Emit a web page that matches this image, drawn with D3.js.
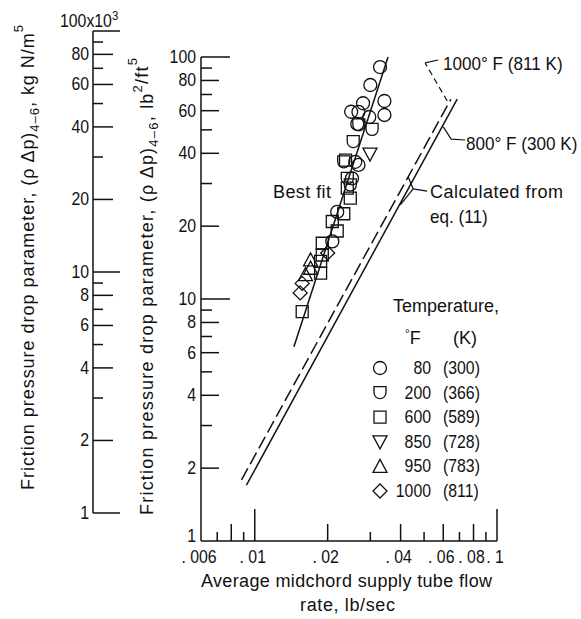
<!DOCTYPE html>
<html>
<head>
<meta charset="utf-8">
<script src="https://cdn.jsdelivr.net/npm/d3@7"></script>
<style>
  body { margin: 0; background: #fff; }
  svg text { font-family: "Liberation Sans", Arial, sans-serif; font-size: 18px; fill: #111; }
</style>
</head>
<body>
<script>
// data (x lb/sec, y lb^2/ft^5)
var circlesX = [0.0329, 0.0300, 0.0280, 0.0343, 0.0343, 0.0250, 0.0297, 0.0265, 0.0268, 0.0260, 0.0268, 0.0252, 0.0219, 0.0209];
var circlesY = [90.9, 76.6, 64.4, 65.8, 57.6, 59.4, 56.5, 52.9, 59.3, 36.9, 35.8, 31.5, 22.9, 17.3];
var cupsX = [0.0305, 0.0269, 0.0255, 0.0241, 0.0233, 0.0248];
var cupsY = [50.2, 52.4, 44.7, 31.5, 36.9, 29.6];
var squaresX = [0.0157, 0.0187, 0.0187, 0.0190, 0.0190, 0.0209, 0.0233, 0.0219, 0.0248, 0.0241, 0.0237];
var squaresY = [8.86, 12.8, 14.3, 15.2, 17.0, 20.9, 22.5, 19.1, 26.1, 28.7, 37.5];
var trisDownX = [0.0299];
var trisDownY = [39.7];
var trisUpX = [0.0170, 0.0162, 0.0170];
var trisUpY = [13.4, 12.6, 14.5];
var diamondsX = [0.0157, 0.0154, 0.0200];
var diamondsY = [11.6, 10.6, 15.5];

// lines
var bestFitX = [0.01451, 0.0355];
var bestFitY = [6.35, 100];
var calc800X = [0.00924, 0.0685];
var calc800Y = [1.70, 67.0];
var calc1000X = [0.00882, 0.0645];
var calc1000Y = [1.79, 66.9];

// legend
var legendF = ["80", "200", "600", "850", "950", "1000"];
var legendK = ["(300)", "(366)", "(589)", "(728)", "(783)", "(811)"];

// tick labels
var xTicks = [0.006, 0.01, 0.02, 0.04, 0.06, 0.08, 0.1];
var xTickLabels = [". 006", ". 01", ". 02", ". 04", ". 06", ". 08", ". 1"];
var yTicks = [1, 2, 4, 6, 8, 10, 20, 40, 60, 80, 100];

var width = 581, height = 619;
var NARROW = 0.88;

var svg = d3.select("body").append("svg")
    .attr("width", width)
    .attr("height", height);

// scales
var x = d3.scaleLog().domain([0.006, 0.1]).range([201, 497]);
var y = d3.scaleLog().domain([1, 100]).range([541, 57]);
var y2 = d3.scaleLog().domain([1, 100]).range([513, 31]);

// all 1..9 tick values per decade
function tickValues(lo, hi) {
  var out = [];
  for (var e = Math.floor(Math.log10(lo)); e <= Math.ceil(Math.log10(hi)); e++) {
    for (var m = 1; m < 10; m++) {
      var v = +(m * Math.pow(10, e)).toPrecision(6);
      if (v >= lo - 1e-9 && v <= hi + 1e-9) out.push(v);
    }
  }
  return out;
}
function mantissa(v) {
  return Math.round(v / Math.pow(10, Math.floor(Math.log10(v) + 1e-9)));
}
function tickLen(v, long, mid, short) {
  var m = mantissa(v);
  if (m === 1) return long;
  return m % 2 === 0 ? mid : short;
}
function squeeze(px, py, sx) {
  return "translate(" + px + "," + py + ") scale(" + (sx || NARROW) + ",1)";
}

var axes = svg.append("g").attr("stroke", "#111").attr("stroke-width", 1.5).attr("fill", "none");

// main x axis
axes.append("line").attr("x1", x(0.006)).attr("x2", x(0.1)).attr("y1", y(1)).attr("y2", y(1));
axes.selectAll(".xt").data(tickValues(0.007, 0.1)).enter().append("line")
    .attr("x1", function(d) { return x(d); }).attr("x2", function(d) { return x(d); })
    .attr("y1", y(1)).attr("y2", function(d) { return y(1) - tickLen(d, 32, 17, 9); });

// main y axis
axes.append("line").attr("x1", x(0.006)).attr("x2", x(0.006)).attr("y1", y(1)).attr("y2", y(100));
axes.selectAll(".yt").data(tickValues(1.5, 100)).enter().append("line")
    .attr("x1", x(0.006)).attr("x2", function(d) { return x(0.006) + tickLen(d, 29, 18, 11); })
    .attr("y1", function(d) { return y(d); }).attr("y2", function(d) { return y(d); });

// secondary (SI) y axis
var ax2 = 93;
axes.append("line").attr("x1", ax2).attr("x2", ax2).attr("y1", y2(1)).attr("y2", y2(100));
axes.selectAll(".y2t").data(tickValues(1, 100)).enter().append("line")
    .attr("x1", ax2).attr("x2", function(d) { return ax2 + tickLen(d, 27, 20, 10); })
    .attr("y1", function(d) { return y2(d); }).attr("y2", function(d) { return y2(d); });

// tick labels
svg.selectAll(".xl").data(xTicks).enter().append("text")
    .attr("transform", function(d) { return squeeze(x(d) - 2, 563); })
    .attr("text-anchor", "middle")
    .text(function(d, i) { return xTickLabels[i]; });

svg.selectAll(".yl").data(yTicks).enter().append("text")
    .attr("transform", function(d) { return squeeze(196, d === 1 ? y(d) + 1 : y(d) + 6); })
    .attr("text-anchor", "end")
    .text(function(d) { return d; });

svg.selectAll(".y2l").data(yTicks.slice(0, -1)).enter().append("text")
    .attr("transform", function(d) { return squeeze(89, y2(d) + 6); })
    .attr("text-anchor", "end")
    .text(function(d) { return d; });

var top2 = svg.append("text").attr("transform", squeeze(60, 27));
top2.append("tspan").text("100x10");
top2.append("tspan").attr("dy", -7).attr("font-size", 13).text("3");

// axis titles
function yTitle(tx, ty, len, tail) {
  var t = svg.append("text")
      .attr("transform", "translate(" + tx + "," + ty + ") rotate(-90)")
      .attr("textLength", len)
      .attr("lengthAdjust", "spacing");
  t.append("tspan").text("Friction pressure drop parameter,  (\u03C1 \u0394p)");
  t.append("tspan").attr("dy", 5).attr("font-size", 13).text("4\u20136");
  tail.forEach(function(p) {
    if (p[1] === "sup") t.append("tspan").attr("dy", -11).attr("font-size", 13).text(p[0]);
    else if (p[1] === "back") t.append("tspan").attr("dy", 6).text(p[0]);
    else t.append("tspan").attr("dy", -5).text(p[0]);
  });
}
yTitle(34, 490, 465, [[",  kg N/m", "norm"], ["5", "sup"]]);
yTitle(153, 515, 457, [[",  lb", "norm"], ["2", "sup"], ["/ft", "back"], ["5", "sup"]]);

svg.append("text").attr("x", 201).attr("y", 587)
    .attr("textLength", 291).attr("lengthAdjust", "spacing")
    .text("Average midchord supply tube flow");
svg.append("text").attr("x", 300).attr("y", 611)
    .attr("textLength", 95).attr("lengthAdjust", "spacing")
    .text("rate,  lb/sec");

// lines
var line = d3.line()
    .x(function(d) { return x(d[0]); })
    .y(function(d) { return y(d[1]); });

var lines = svg.append("g").attr("fill", "none").attr("stroke", "#111").attr("stroke-width", 1.5);
lines.append("path").attr("d", line(d3.zip(bestFitX, bestFitY)));
lines.append("path").attr("d", line(d3.zip(calc800X, calc800Y)));
lines.append("path").attr("d", line(d3.zip(calc1000X, calc1000Y))).attr("stroke-dasharray", "13,5");

// leaders (data space)
lines.append("path").attr("stroke-dasharray", "6,4").attr("stroke-width", 1.2)
    .attr("d", line([[0.0623, 65.8], [0.0505, 94.5]]));
lines.append("path").attr("stroke-width", 1.2)
    .attr("d", line([[0.0505, 94.5], [0.0572, 97.2]]));
lines.append("path").attr("stroke-width", 1.2)
    .attr("d", line([[0.0600, 51.4], [0.0647, 45.8], [0.0739, 45.4]]));
lines.append("path").attr("stroke-width", 1.2)
    .attr("d", line([[0.0430, 31.9], [0.0451, 28.5], [0.0515, 27.9]]));
lines.append("path").attr("stroke-width", 1.2)
    .attr("d", line([[0.0451, 28.5], [0.0399, 24.5]]));

// annotations
svg.append("text").attr("transform", squeeze(443, 70, 0.95)).text("1000\u00B0 F (811 K)");
svg.append("text").attr("transform", squeeze(466, 150, 0.95)).text("800\u00B0 F (300 K)");
svg.append("text").attr("x", 430).attr("y", 198).attr("textLength", 133).attr("lengthAdjust", "spacing").text("Calculated from");
svg.append("text").attr("transform", squeeze(430, 223, 0.95)).text("eq.  (11)");
svg.append("text").attr("x", 273).attr("y", 198).attr("textLength", 58).attr("lengthAdjust", "spacing").text("Best fit");

// marker shapes
var shapes = {
  circle: "M6.5,0A6.5,6.5 0 1 1 -6.5,0A6.5,6.5 0 1 1 6.5,0Z",
  cup: "M-6,-6L6,-6L6,0A6,6 0 0 1 -6,0Z",
  square: "M-6,-6L6,-6L6,6L-6,6Z",
  triDown: "M-7,-6L7,-6L0,7Z",
  triUp: "M-7,6L7,6L0,-7Z",
  diamond: "M0,-7L7,0L0,7L-7,0Z"
};
var series = [
  ["circle", circlesX, circlesY],
  ["cup", cupsX, cupsY],
  ["square", squaresX, squaresY],
  ["triDown", trisDownX, trisDownY],
  ["triUp", trisUpX, trisUpY],
  ["diamond", diamondsX, diamondsY]
];

var pts = svg.append("g").attr("fill", "none").attr("stroke", "#111").attr("stroke-width", 1.3);
series.forEach(function(s) {
  pts.selectAll(".p-" + s[0]).data(d3.zip(s[1], s[2])).enter().append("path")
      .attr("d", shapes[s[0]])
      .attr("transform", function(d) { return "translate(" + x(d[0]) + "," + y(d[1]) + ")"; });
});

// legend
var lg = svg.append("g");
lg.append("text").attr("x", 393).attr("y", 312).text("Temperature,");
var hdr = lg.append("text").attr("x", 405).attr("y", 344);
hdr.append("tspan").attr("font-size", 12).attr("dy", -6).text("\u00B0");
hdr.append("tspan").attr("dy", 6).text("F");
lg.append("text").attr("x", 453).attr("y", 344).text("(K)");

var rows = lg.selectAll(".row").data(series).enter().append("g")
    .attr("transform", function(d, i) { return "translate(0," + (368 + i * 24.6) + ")"; });
rows.append("path")
    .attr("d", function(d) { return shapes[d[0]]; })
    .attr("transform", "translate(380,0)")
    .attr("fill", "none").attr("stroke", "#111").attr("stroke-width", 1.3);
rows.append("text").attr("transform", squeeze(431, 6)).attr("text-anchor", "end")
    .text(function(d, i) { return legendF[i]; });
rows.append("text").attr("transform", squeeze(443, 6))
    .text(function(d, i) { return legendK[i]; });
</script>
</body>
</html>
